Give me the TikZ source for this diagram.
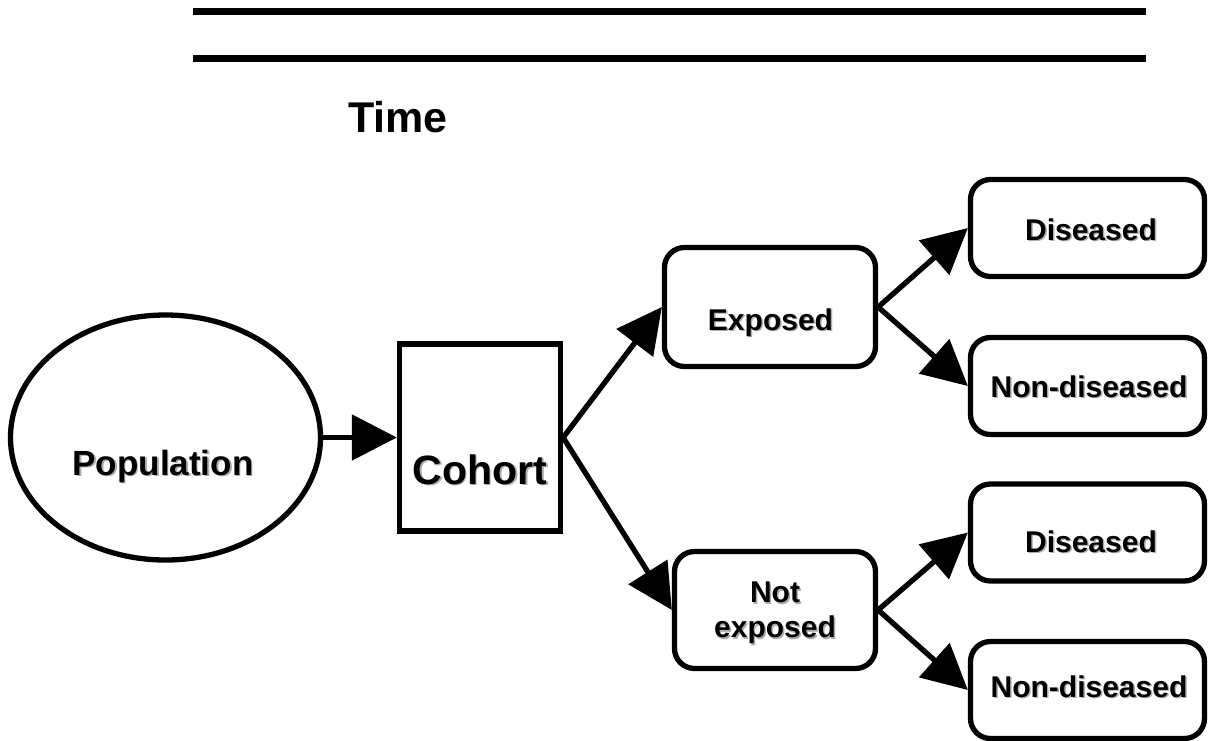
\documentclass[tikz,border=0pt]{standalone}
\usepackage{fontspec}
\setmainfont{Liberation Sans}
\usetikzlibrary{arrows.meta,shapes.geometric}

\definecolor{shadowgray}{gray}{0.68}
\newcommand{\shd}[1]{\rlap{\kern1.5pt\raisebox{-1.5pt}{\color{shadowgray}#1}}#1}

\begin{document}
\begin{tikzpicture}[x=1pt,y=-1pt,line width=5.3pt]

      \useasboundingbox (0,0) rectangle (1208,740);

      \draw[line width=7pt] (193,11) -- (1146,11);
      \draw[line width=7pt] (193,58) -- (1146,58);

      \begin{scope}[every node/.style={draw,inner sep=0pt}]
        \node[ellipse,minimum width=310pt,minimum height=245pt] (pop) at (165.5,437.5) {};
        \node[minimum width=161pt,minimum height=187pt] (coh) at (480,437.5) {};
      \end{scope}

      \begin{scope}[every node/.style={draw,inner sep=0pt,rounded corners=20pt,
          minimum width=234pt,minimum height=97pt}]
        \node[minimum width=211pt,minimum height=119pt] (exp) at (770,307) {};
        \node[minimum width=201pt,minimum height=117pt] (nexp) at (775,610) {};
        \node (dis1) at (1087.5,228) {};
        \node (non1) at (1087.5,386) {};
        \node (dis2) at (1087.5,532.5) {};
        \node (non2) at (1087.5,690) {};
      \end{scope}

      \begin{scope}[every node/.style={inner sep=0pt,anchor=base,
          font=\bfseries\fontsize{30}{35}\selectfont}]
        \node[font=\bfseries\fontsize{43}{50}\selectfont] (time) at (398,132) {Time};
        \node[font=\bfseries\fontsize{35}{42}\selectfont] (popt) at (163,475) {\shd{Population}};
        \node[font=\bfseries\fontsize{41}{48}\selectfont] (coht) at (480,484) {\shd{Cohort}};
        \node (expt) at (770.5,330) {\shd{Exposed}};
        \node[align=center,anchor=center] (nexpt) at (775,614) {\shd{Not}\\\shd{exposed}};
        \node (dis1t) at (1091,240) {\shd{Diseased}};
        \node (non1t) at (1089,397) {\shd{Non-diseased}};
        \node (dis2t) at (1091,552) {\shd{Diseased}};
        \node (non2t) at (1089,697) {\shd{Non-diseased}};
      \end{scope}

      \begin{scope}[every edge/.style={draw,-{Triangle[length=45pt,width=45pt]}}]
        \path (pop.east)  edge (coh.west);
        \path (coh.east)  edge (exp.west);
        \path (coh.east)  edge (nexp.west);
        \path (exp.east)  edge (dis1.west);
        \path (exp.east)  edge (non1.west);
        \path (nexp.east) edge (dis2.west);
        \path (nexp.east) edge (non2.west);
      \end{scope}

    \end{tikzpicture}
\end{document}
